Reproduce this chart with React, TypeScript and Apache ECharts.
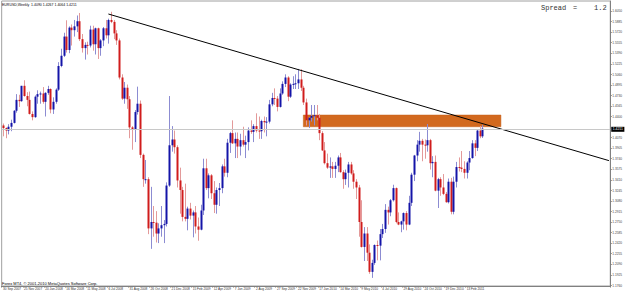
import React, { useEffect, useRef } from "react";
import * as echarts from "echarts";

// Weekly EURUSD bars, week of 30 Sep 2007 (index 0) to week of 27 Mar 2011 (index 182)
const OPENS = [
  1.4260, 1.4220, 1.4180, 1.4240, 1.4300, 1.4490, 1.4660, 1.4640, 1.4880, 1.4720,
  1.4660, 1.4440, 1.4390, 1.4710, 1.4750, 1.4760, 1.4630, 1.4770, 1.4830, 1.4510,
  1.4630, 1.4820, 1.5190, 1.5350, 1.5650, 1.5440, 1.5790, 1.5750, 1.5810, 1.5890,
  1.5610, 1.5470, 1.5520, 1.5510, 1.5760, 1.5530, 1.5780, 1.5470, 1.5590, 1.5780,
  1.5670, 1.5910, 1.5880, 1.5700, 1.5590, 1.5010, 1.4680, 1.4850, 1.4670, 1.4230,
  1.4200, 1.4470, 1.4600, 1.3800, 1.3420, 1.3420, 1.2650, 1.2750, 1.2740, 1.2570,
  1.2650, 1.2700, 1.2720, 1.3320, 1.3950, 1.4040, 1.3920, 1.3400, 1.3250, 1.2830,
  1.2800, 1.2960, 1.2850, 1.2900, 1.2680, 1.2630, 1.2930, 1.3590, 1.3280, 1.3480,
  1.3200, 1.3020, 1.3250, 1.3280, 1.3620, 1.3520, 1.3990, 1.4140, 1.3980, 1.4050,
  1.3930, 1.4030, 1.3960, 1.4000, 1.4180, 1.4160, 1.4250, 1.4180, 1.4170, 1.4330,
  1.4310, 1.4320, 1.4590, 1.4690, 1.4680, 1.4550, 1.4760, 1.4910, 1.5010, 1.4710,
  1.4900, 1.4910, 1.4920, 1.4980, 1.4850, 1.4620, 1.4340, 1.4380, 1.4410, 1.4420,
  1.4380, 1.4140, 1.3870, 1.3670, 1.3600, 1.3620, 1.3580, 1.3630, 1.3760, 1.3530,
  1.3420, 1.3520, 1.3650, 1.3510, 1.3380, 1.3290, 1.2750, 1.2360, 1.2570, 1.2270,
  1.1970, 1.2110, 1.2390, 1.2380, 1.2560, 1.2640, 1.2940, 1.2900, 1.3090, 1.3280,
  1.2750, 1.2710, 1.2760, 1.2890, 1.2710, 1.3050, 1.3490, 1.3790, 1.3960, 1.4020,
  1.3960, 1.3950, 1.4030, 1.3670, 1.3690, 1.3240, 1.3420, 1.3290, 1.3190, 1.3060,
  1.3380, 1.2910, 1.3380, 1.3610, 1.3600, 1.3580, 1.3520, 1.3680, 1.3750, 1.3980,
  1.3910, 1.4180, 1.4090,
];
const HIGHS = [
  1.4290, 1.4230, 1.4280, 1.4350, 1.4500, 1.4750, 1.4740, 1.4880, 1.4967, 1.4780,
  1.4790, 1.4480, 1.4730, 1.4810, 1.4790, 1.4860, 1.4780, 1.4880, 1.4840, 1.4700,
  1.4840, 1.5250, 1.5460, 1.5710, 1.5905, 1.5810, 1.5840, 1.5910, 1.5980, 1.6019,
  1.5690, 1.5560, 1.5570, 1.5820, 1.5820, 1.5790, 1.5790, 1.5610, 1.5800, 1.5910,
  1.5930, 1.6038, 1.5910, 1.5750, 1.5620, 1.5060, 1.4940, 1.4900, 1.4720, 1.4250,
  1.4500, 1.4867, 1.4650, 1.3820, 1.3720, 1.3450, 1.3300, 1.3000, 1.2920, 1.2730,
  1.3000, 1.2780, 1.3370, 1.4720, 1.4250, 1.4180, 1.3950, 1.3600, 1.3300, 1.3350,
  1.2990, 1.3050, 1.2930, 1.3000, 1.2820, 1.3020, 1.3740, 1.3740, 1.3510, 1.3500,
  1.3390, 1.3290, 1.3360, 1.3650, 1.3740, 1.4050, 1.4160, 1.4340, 1.4150, 1.4150,
  1.4130, 1.4240, 1.4100, 1.4230, 1.4340, 1.4280, 1.4450, 1.4400, 1.4350, 1.4400,
  1.4390, 1.4660, 1.4770, 1.4840, 1.4720, 1.4840, 1.4950, 1.5060, 1.5030, 1.4920,
  1.5030, 1.5060, 1.5144, 1.5140, 1.4880, 1.4680, 1.4390, 1.4580, 1.4580, 1.4580,
  1.4440, 1.4170, 1.4000, 1.3820, 1.3760, 1.3690, 1.3690, 1.3790, 1.3830, 1.3560,
  1.3570, 1.3690, 1.3690, 1.3560, 1.3420, 1.3330, 1.3090, 1.2670, 1.2670, 1.2400,
  1.2160, 1.2400, 1.2460, 1.2640, 1.2720, 1.3030, 1.2990, 1.3110, 1.3333, 1.3290,
  1.2900, 1.2770, 1.2900, 1.2920, 1.3160, 1.3520, 1.3800, 1.4030, 1.4160, 1.4050,
  1.4040, 1.4282, 1.4050, 1.3780, 1.3790, 1.3440, 1.3450, 1.3500, 1.3220, 1.3430,
  1.3440, 1.3460, 1.3690, 1.3760, 1.3860, 1.3700, 1.3700, 1.3860, 1.4030, 1.4030,
  1.4190, 1.4250, 1.4267,
];
const LOWS = [
  1.4090, 1.4060, 1.4120, 1.4170, 1.4290, 1.4460, 1.4550, 1.4630, 1.4710, 1.4560,
  1.4430, 1.4340, 1.4380, 1.4600, 1.4600, 1.4600, 1.4400, 1.4740, 1.4450, 1.4440,
  1.4600, 1.4800, 1.5170, 1.5330, 1.5400, 1.5390, 1.5510, 1.5650, 1.5720, 1.5580,
  1.5400, 1.5290, 1.5370, 1.5480, 1.5430, 1.5370, 1.5300, 1.5350, 1.5500, 1.5620,
  1.5540, 1.5860, 1.5610, 1.5520, 1.4980, 1.4660, 1.4600, 1.4520, 1.4060, 1.3880,
  1.4000, 1.4430, 1.3750, 1.3300, 1.3350, 1.2560, 1.2330, 1.2520, 1.2430, 1.2420,
  1.2520, 1.2420, 1.2680, 1.3300, 1.3850, 1.3820, 1.3290, 1.2880, 1.2760, 1.2760,
  1.2620, 1.2790, 1.2510, 1.2570, 1.2457, 1.2620, 1.2860, 1.3250, 1.3120, 1.3110,
  1.2890, 1.2880, 1.3000, 1.3200, 1.3460, 1.3450, 1.3830, 1.3970, 1.3750, 1.3750,
  1.3790, 1.3930, 1.3750, 1.3870, 1.4130, 1.4000, 1.4150, 1.4050, 1.4050, 1.4150,
  1.4090, 1.4290, 1.4560, 1.4580, 1.4480, 1.4540, 1.4740, 1.4860, 1.4640, 1.4690,
  1.4830, 1.4830, 1.4830, 1.4800, 1.4580, 1.4260, 1.4220, 1.4320, 1.4260, 1.4340,
  1.4030, 1.3860, 1.3650, 1.3580, 1.3440, 1.3440, 1.3440, 1.3530, 1.3520, 1.3270,
  1.3330, 1.3290, 1.3490, 1.3270, 1.3110, 1.2520, 1.2350, 1.2140, 1.2140, 1.1940,
  1.1876, 1.2080, 1.2150, 1.2150, 1.2500, 1.2580, 1.2710, 1.2840, 1.3070, 1.2730,
  1.2700, 1.2590, 1.2630, 1.2620, 1.2700, 1.3000, 1.3390, 1.3700, 1.3850, 1.3700,
  1.3740, 1.3850, 1.3570, 1.3450, 1.3230, 1.2969, 1.3160, 1.3170, 1.3050, 1.3040,
  1.2870, 1.2870, 1.3290, 1.3540, 1.3530, 1.3430, 1.3430, 1.3560, 1.3740, 1.3780,
  1.3860, 1.4060, 1.4064,
];
const CLOSES = [
  1.4220, 1.4180, 1.4240, 1.4300, 1.4490, 1.4660, 1.4640, 1.4880, 1.4720, 1.4660,
  1.4440, 1.4390, 1.4710, 1.4750, 1.4760, 1.4630, 1.4770, 1.4830, 1.4510, 1.4630,
  1.4820, 1.5190, 1.5350, 1.5650, 1.5440, 1.5790, 1.5750, 1.5810, 1.5890, 1.5610,
  1.5470, 1.5520, 1.5510, 1.5760, 1.5530, 1.5780, 1.5470, 1.5590, 1.5780, 1.5670,
  1.5910, 1.5880, 1.5700, 1.5590, 1.5010, 1.4680, 1.4850, 1.4670, 1.4230, 1.4200,
  1.4470, 1.4600, 1.3800, 1.3420, 1.3420, 1.2650, 1.2750, 1.2740, 1.2570, 1.2650,
  1.2700, 1.2720, 1.3320, 1.3950, 1.4040, 1.3920, 1.3400, 1.3250, 1.2830, 1.2800,
  1.2960, 1.2850, 1.2900, 1.2680, 1.2630, 1.2930, 1.3590, 1.3280, 1.3480, 1.3200,
  1.3020, 1.3250, 1.3280, 1.3620, 1.3520, 1.3990, 1.4140, 1.3980, 1.4050, 1.3930,
  1.4030, 1.3960, 1.4000, 1.4180, 1.4160, 1.4250, 1.4180, 1.4170, 1.4330, 1.4310,
  1.4320, 1.4590, 1.4690, 1.4680, 1.4550, 1.4760, 1.4910, 1.5010, 1.4710, 1.4900,
  1.4910, 1.4920, 1.4980, 1.4850, 1.4620, 1.4340, 1.4380, 1.4410, 1.4420, 1.4380,
  1.4140, 1.3870, 1.3670, 1.3600, 1.3620, 1.3580, 1.3630, 1.3760, 1.3530, 1.3420,
  1.3520, 1.3650, 1.3510, 1.3380, 1.3290, 1.2750, 1.2360, 1.2570, 1.2270, 1.1970,
  1.2110, 1.2390, 1.2380, 1.2560, 1.2640, 1.2940, 1.2900, 1.3090, 1.3280, 1.2750,
  1.2710, 1.2760, 1.2890, 1.2710, 1.3050, 1.3490, 1.3790, 1.3960, 1.4020, 1.3960,
  1.3950, 1.4030, 1.3670, 1.3690, 1.3240, 1.3420, 1.3290, 1.3190, 1.3060, 1.3380,
  1.2910, 1.3380, 1.3610, 1.3600, 1.3580, 1.3520, 1.3680, 1.3750, 1.3980, 1.3910,
  1.4180, 1.4090, 1.4211,
];

// Date labels, one every 8 weekly bars starting at bar 0
const DATE_TICKS = [
  "30 Sep 2007", "25 Nov 2007", "20 Jan 2008", "16 Mar 2008", "11 May 2008",
  "6 Jul 2008", "31 Aug 2008", "26 Oct 2008", "21 Dec 2008", "15 Feb 2009",
  "12 Apr 2009", "7 Jun 2009", "2 Aug 2009", "27 Sep 2009", "22 Nov 2009",
  "17 Jan 2010", "14 Mar 2010", "9 May 2010", "4 Jul 2010", "29 Aug 2010",
  "24 Oct 2010", "19 Dec 2010", "13 Feb 2011",
];
const DATE_TICK_STEP = 8;
const SLOT_COUNT = 231; // bar slots on the time axis, incl. the empty right shift

// Price scale labels
const PRICE_TICKS = [
  1.6050, 1.5885, 1.5720, 1.5555, 1.5390, 1.5225, 1.5060, 1.4895, 1.4730,
  1.4565, 1.4400, 1.4070, 1.3905, 1.3740, 1.3575, 1.3410, 1.3245, 1.3080,
  1.2915, 1.2750, 1.2585, 1.2420, 1.2255, 1.2090, 1.1925, 1.1760,
];
const PRICE_MIN = 1.17491;
const PRICE_MAX = 1.62065;

// Drawn objects
const TRENDLINE = [
  [40, 1.6003],
  [230, 1.3710],
];
const ZONE_FROM_BAR = 114;
const ZONE_TO_BAR = 189;
const ZONE_LOW = 1.4240;
const ZONE_HIGH = 1.4423;
const SPREAD = "1.2";

const BODY_UP = "#1414a8";
const BODY_DN = "#d01c1c";
const WICK_UP = "#8c8cd2";
const WICK_DN = "#e39a9a";

export default function App() {
  const ref = useRef<HTMLDivElement>(null);

  useEffect(() => {
    if (!ref.current) return;
    const chart = echarts.init(ref.current, null, { renderer: "svg" });
    const categories = Array.from({ length: SLOT_COUNT }, (_, i) => String(i));
    const bars = OPENS.map((o, i) => [i, o, HIGHS[i], LOWS[i], CLOSES[i]]);
    const last = bars.length - 1;
    const lastClose = CLOSES[last];
    const header = `EURUSD,Weekly  ${OPENS[last].toFixed(4)} ${HIGHS[last].toFixed(4)} ${LOWS[last].toFixed(4)} ${lastClose.toFixed(4)}`;
    const font = "'Liberation Sans', Arial, sans-serif";

    chart.setOption({
      animation: false,
      backgroundColor: "#ffffff",
      textStyle: { fontFamily: font },
      grid: {
        left: 1,
        right: 14,
        top: 1,
        bottom: 6,
        show: true,
        borderColor: "#a0a0a0",
        borderWidth: 1,
        backgroundColor: "#ffffff",
      },
      xAxis: {
        type: "category",
        data: categories,
        boundaryGap: true,
        axisLine: { show: true, lineStyle: { color: "#808080", width: 1 } },
        axisTick: {
          show: true,
          length: 1.5,
          lineStyle: { color: "#808080" },
          interval: (idx: number) => idx % DATE_TICK_STEP === 0 && idx / DATE_TICK_STEP < DATE_TICKS.length,
        },
        axisLabel: {
          show: true,
          interval: (idx: number) => idx % DATE_TICK_STEP === 0 && idx / DATE_TICK_STEP < DATE_TICKS.length,
          formatter: (_v: string, idx: number) => DATE_TICKS[idx / DATE_TICK_STEP] ?? "",
          align: "left",
          fontSize: 3.2,
          margin: 1,
          color: "#333333",
          fontFamily: font,
        },
        splitLine: { show: false },
      },
      yAxis: {
        type: "value",
        position: "right",
        min: PRICE_MIN,
        max: PRICE_MAX,
        scale: true,
        axisLine: { show: true, lineStyle: { color: "#808080", width: 1 } },
        axisTick: { show: true, length: 1.5, lineStyle: { color: "#808080" }, customValues: PRICE_TICKS },
        axisLabel: {
          show: true,
          customValues: PRICE_TICKS,
          formatter: (v: number) => v.toFixed(4),
          fontSize: 3.2,
          margin: 2,
          color: "#444444",
          fontFamily: font,
        },
        splitLine: { show: false },
      },
      series: [
        {
          type: "line",
          name: "zone",
          z: 1,
          data: [],
          silent: true,
          markArea: {
            silent: true,
            itemStyle: { color: "#d2691e", borderColor: "#c45f18", borderWidth: 0.5, opacity: 1 },
            data: [[{ xAxis: ZONE_FROM_BAR, yAxis: ZONE_HIGH }, { xAxis: ZONE_TO_BAR, yAxis: ZONE_LOW }]],
          },
        },
        {
          type: "custom",
          name: "EURUSD",
          z: 2,
          data: bars,
          encode: { x: 0, y: [1, 2, 3, 4] },
          renderItem: (_params: any, api: any) => {
            const i = api.value(0);
            const o = api.value(1);
            const h = api.value(2);
            const l = api.value(3);
            const c = api.value(4);
            const pO = api.coord([i, o]);
            const pC = api.coord([i, c]);
            const pH = api.coord([i, h]);
            const pL = api.coord([i, l]);
            const x = Math.round(pO[0]) + 0.5;
            const up = c >= o;
            const top = Math.min(pO[1], pC[1]);
            const bh = Math.max(Math.abs(pO[1] - pC[1]), 1);
            return {
              type: "group",
              children: [
                {
                  type: "line",
                  shape: { x1: x, y1: pH[1], x2: x, y2: pL[1] },
                  style: { stroke: up ? WICK_UP : WICK_DN, lineWidth: 1 },
                },
                {
                  type: "rect",
                  shape: { x: x - 1, y: top, width: 2, height: bh },
                  style: { fill: up ? BODY_UP : BODY_DN },
                },
              ],
            };
          },
          markLine: {
            silent: true,
            symbol: ["none", "none"],
            lineStyle: { color: "#c8c8c8", type: "solid", width: 1 },
            label: {
              show: true,
              position: "end",
              formatter: () => lastClose.toFixed(4),
              backgroundColor: "#000000",
              color: "#ffffff",
              fontSize: 3.4,
              padding: [1, 1.5],
              distance: 1,
              fontFamily: font,
            },
            data: [{ yAxis: lastClose }],
          },
        },
        {
          type: "line",
          name: "trend",
          z: 3,
          data: TRENDLINE,
          symbol: "none",
          silent: true,
          lineStyle: { color: "#000000", width: 1 },
        },
      ],
      graphic: [
        {
          type: "text",
          left: 2,
          top: 3,
          style: { text: header, fontSize: 3.5, fill: "#000000", fontFamily: font },
          z: 10,
        },
        {
          type: "text",
          left: 541,
          top: 4.5,
          style: { text: "Spread", fontSize: 7, fill: "#333333", fontFamily: "'Liberation Mono', monospace" },
          z: 10,
        },
        {
          type: "text",
          left: 573,
          top: 4.5,
          style: { text: "=", fontSize: 7, fill: "#333333", fontFamily: "'Liberation Mono', monospace" },
          z: 10,
        },
        {
          type: "text",
          left: 594,
          top: 4.5,
          style: { text: SPREAD, fontSize: 7, fill: "#333333", fontFamily: "'Liberation Mono', monospace" },
          z: 10,
        },
        {
          type: "text",
          left: 2,
          top: 281,
          style: {
            text: "Forex MT4, © 2001-2010 MetaQuotes Software Corp.",
            fontSize: 4,
            fill: "#000000",
            fontFamily: font,
          },
          z: 10,
        },
      ],
    });

    return () => chart.dispose();
  }, []);

  return (
    <div
      ref={ref}
      style={{ position: "absolute", left: 0, top: 0, width: 625, height: 292 }}
    />
  );
}
